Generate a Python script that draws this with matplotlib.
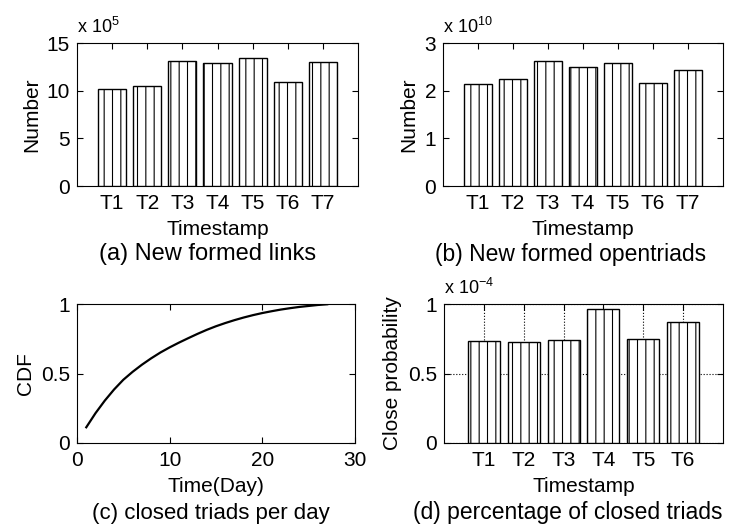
import numpy as np
import matplotlib
matplotlib.use("Agg")
import matplotlib.pyplot as plt

plt.rcParams['font.family'] = ['Liberation Sans', 'DejaVu Sans']
plt.rcParams['mathtext.fontset'] = 'custom'
plt.rcParams['mathtext.rm'] = 'Liberation Sans'
plt.rcParams['mathtext.it'] = 'Liberation Sans'
plt.rcParams['hatch.linewidth'] = 0.8
plt.rcParams['font.size'] = 15

# data
links_labels = ['T1', 'T2', 'T3', 'T4', 'T5', 'T6', 'T7']
links_vals = [10.2, 10.45, 13.15, 12.9, 13.4, 10.95, 13.05]          # x 10^5

triads_labels = ['T1', 'T2', 'T3', 'T4', 'T5', 'T6', 'T7']
triads_vals = [2.14, 2.24, 2.63, 2.49, 2.58, 2.17, 2.44]            # x 10^10

days = [1, 2, 3, 4, 5, 6, 7, 8, 9, 10, 11, 12, 13, 14, 15, 16, 17, 18,
        19, 20, 21, 22, 23, 24, 25, 26, 27]
cdf = [0.113, 0.215, 0.305, 0.385, 0.455, 0.512, 0.563, 0.609, 0.651, 0.688,
       0.722, 0.754, 0.785, 0.814, 0.840, 0.863, 0.884, 0.903, 0.920, 0.935,
       0.948, 0.960, 0.970, 0.979, 0.986, 0.993, 0.998]

prob_labels = ['T1', 'T2', 'T3', 'T4', 'T5', 'T6']
prob_vals = [0.734, 0.725, 0.741, 0.962, 0.748, 0.873]             # x 10^-4

captions = ['(a) New formed links', '(b) New formed opentriads',
            '(c) closed triads per day', '(d) percentage of closed triads']

W, H = 731, 527
fig = plt.figure(figsize=(W / 100, H / 100), dpi=100)


def make_ax(x0, y0, x1, y1):
    return fig.add_axes([x0 / W, 1 - y1 / H, (x1 - x0) / W, (y1 - y0) / H])


def style(ax):
    ax.tick_params(direction='in', length=4, width=0.8, top=True, right=True,
                   labelsize=15)
    ax.tick_params(axis='x', pad=5.5)
    ax.tick_params(axis='y', pad=5)
    for s in ax.spines.values():
        s.set_linewidth(0.8)


def bars(ax, labels, vals):
    x = np.arange(1, len(vals) + 1)
    ax.bar(x, vals, width=0.8, color='white', edgecolor='black',
           linewidth=1.0, hatch='||', zorder=3)
    ax.set_xticks(x)
    ax.set_xticklabels(labels)
    ax.set_xlim(0, len(vals) + 1)


def expo(ax, s):
    ax.annotate(s, xy=(0, 1), xycoords='axes fraction', xytext=(0, 7),
                textcoords='offset points', ha='left', va='baseline',
                fontsize=13)


def caption(s, xc, yc, size=16.5):
    fig.text(xc / W, 1 - yc / H, s, ha='center', va='center', fontsize=size)


# (a)
ax1 = make_ax(77, 43, 358, 186)
bars(ax1, links_labels, links_vals)
ax1.set_ylim(0, 15)
ax1.set_yticks([0, 5, 10, 15])
ax1.set_ylabel('Number')
ax1.set_xlabel('Timestamp', labelpad=5)
expo(ax1, r'x 10$^{5}$')
style(ax1)
caption(captions[0], 208, 254, 17)

# (b)
ax2 = make_ax(443, 43, 723, 186)
bars(ax2, triads_labels, triads_vals)
ax2.set_ylim(0, 3)
ax2.set_yticks([0, 1, 2, 3])
ax2.set_ylabel('Number')
ax2.set_xlabel('Timestamp', labelpad=5)
expo(ax2, r'x 10$^{10}$')
style(ax2)
caption(captions[1], 571, 254)

# (c)
ax3 = make_ax(77, 304, 355, 443)
ax3.plot(days, cdf, color='black', linewidth=1.6)
ax3.set_xlim(0, 30)
ax3.set_ylim(0, 1)
ax3.set_xticks([0, 10, 20, 30])
ax3.set_yticks([0, 0.5, 1])
ax3.set_yticklabels(['0', '0.5', '1'])
ax3.set_ylabel('CDF')
ax3.set_xlabel('Time(Day)', labelpad=5)
style(ax3)
caption(captions[2], 211, 513, 16)

# (d)
ax4 = make_ax(444, 304, 723, 443)
bars(ax4, prob_labels, prob_vals)
ax4.set_ylim(0, 1)
ax4.set_yticks([0, 0.5, 1])
ax4.set_yticklabels(['0', '0.5', '1'])
ax4.grid(True, linestyle=':', color='black', linewidth=0.8, zorder=0)
ax4.set_axisbelow(True)
ax4.set_ylabel('Close probability')
ax4.set_xlabel('Timestamp', labelpad=5)
expo(ax4, r'x 10$^{-4}$')
style(ax4)
caption(captions[3], 568, 513)

fig.savefig('out.png', dpi=100)
